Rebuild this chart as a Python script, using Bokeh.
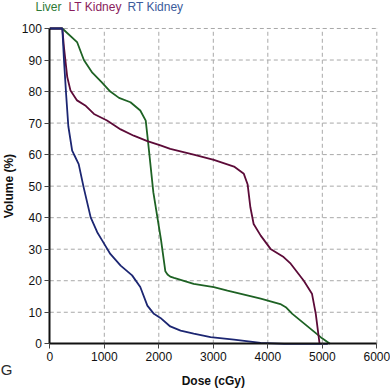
import numpy as np
from bokeh.plotting import figure
from bokeh.models import Label, FixedTicker, Range1d
from bokeh.embed import file_html
from bokeh.resources import INLINE

# ---- data ----
liver_dose = [0, 230, 500, 625, 780, 950, 1110, 1270, 1480, 1660, 1760, 1800, 1900, 2040,
              2120, 2160, 2210, 2280, 2640, 3010, 3260, 3870, 4230, 4330, 4450, 4970, 5140]
liver_vol = [100, 100, 95.7, 90, 86, 83, 80, 78, 76.6, 74, 70.8, 64.5, 48, 33,
             23, 22, 21.3, 20.9, 19, 18, 16.9, 14.3, 12.6, 11.6, 9.5, 2.1, 0]

ltk_dose = [0, 230, 260, 320, 380, 500, 650, 810, 1050, 1300, 1540, 1790, 2030, 2210,
            2640, 3010, 3380, 3560, 3630, 3680, 3740, 3870, 4050, 4290, 4420, 4660,
            4810, 4880, 4950]
ltk_vol = [100, 100, 94, 84.6, 80.3, 77.2, 75.6, 72.9, 70.8, 68, 66, 64.3, 62.9, 61.8,
           60, 58.3, 56.2, 53.9, 50.5, 43.3, 38, 34.3, 30.1, 27.5, 25.4, 20,
           15.9, 9.5, 0]

rtk_dose = [0, 230, 260, 300, 340, 410, 440, 530, 620, 750, 870, 960, 1110, 1300, 1510,
            1660, 1790, 1910, 2030, 2210, 2400, 2640, 2950, 3380, 3870, 4300, 5100]
rtk_vol = [100, 100, 90, 79, 69, 61.3, 60.2, 57, 49.7, 40.1, 35.4, 32.8, 28.5, 24.8, 21.7,
           18, 12.1, 9.5, 8.2, 5.5, 4.2, 3.2, 2.1, 1.3, 0.3, 0, 0]

series_names = ["Liver", "LT Kidney", "RT Kidney"]
line_colors = ["#1e6224", "#5c0b38", "#1c2672"]
text_colors = ["#2e7a36", "#8a1c5c", "#3b5c9c"]
x_ticks = [0, 1000, 2000, 3000, 4000, 5000, 6000]
y_ticks = [0, 10, 20, 30, 40, 50, 60, 70, 80, 90, 100]

FONT = "Liberation Sans"

# the frame covers the whole canvas; axes are pinned at the data origin
p = figure(width=390, height=388,
           x_range=Range1d(-904.6, 6251), y_range=Range1d(-14.18, 108.88),
           output_backend="svg", toolbar_location=None, min_border=0)
p.outline_line_color = None
p.background_fill_color = "white"
p.border_fill_color = "white"
p.xgrid.visible = False
p.ygrid.visible = False

# dashed grid bounded to the data area, built from the tick lists
gx = x_ticks[1:]
gy = y_ticks[1:]
p.segment(x0=gx, y0=[y_ticks[0]] * len(gx), x1=gx, y1=[y_ticks[-1]] * len(gx),
          line_color="#a8a8a8", line_width=1, line_dash="4 3")
p.segment(x0=[x_ticks[0]] * len(gy), y0=gy, x1=[x_ticks[-1]] * len(gy), y1=gy,
          line_color="#a8a8a8", line_width=1, line_dash="4 3")

# curves
p.line(liver_dose, liver_vol, line_color=line_colors[0], line_width=1.8)
p.line(ltk_dose, ltk_vol, line_color=line_colors[1], line_width=1.8)
p.line(rtk_dose, rtk_vol, line_color=line_colors[2], line_width=1.8)

for ax, ticks, loc in ((p.xaxis[0], x_ticks, y_ticks[0]), (p.yaxis[0], y_ticks, x_ticks[0])):
    ax.ticker = FixedTicker(ticks=ticks)
    ax.fixed_location = loc
    ax.bounds = (ticks[0], ticks[-1])
    ax.axis_line_width = 2
    ax.axis_line_color = "#111111"
    ax.major_tick_line_color = "#444444"
    ax.major_tick_out = 5
    ax.major_tick_in = 0
    ax.minor_tick_line_color = None
    ax.major_label_text_font = FONT
    ax.major_label_text_font_size = "12px"
    ax.major_label_text_color = "#111111"
    ax.major_label_standoff = 3

# legend-like coloured labels above the plot
legend_x = [-262, 343, 1426]
for name, col, lx in zip(series_names, text_colors, legend_x):
    p.add_layout(Label(x=lx, y=106.8, text=name, text_color=col, text_font=FONT,
                       text_font_size="12px", text_align="left", text_baseline="middle"))

# axis titles
p.add_layout(Label(x=-752, y=50, text="Volume (%)", angle=np.pi / 2, text_font=FONT,
                   text_font_size="12px", text_font_style="bold", text_color="#111111",
                   text_align="center", text_baseline="middle"))
p.add_layout(Label(x=3000, y=-11.9, text="Dose (cGy)", text_font=FONT,
                   text_font_size="12px", text_font_style="bold", text_color="#111111",
                   text_align="center", text_baseline="middle"))

# panel letter
p.add_layout(Label(x=-795, y=-8.3, text="G", text_font=FONT, text_font_size="15px",
                   text_color="#2a2a2a", text_align="center", text_baseline="middle"))

open("out.html", "w").write(file_html(p, INLINE))
